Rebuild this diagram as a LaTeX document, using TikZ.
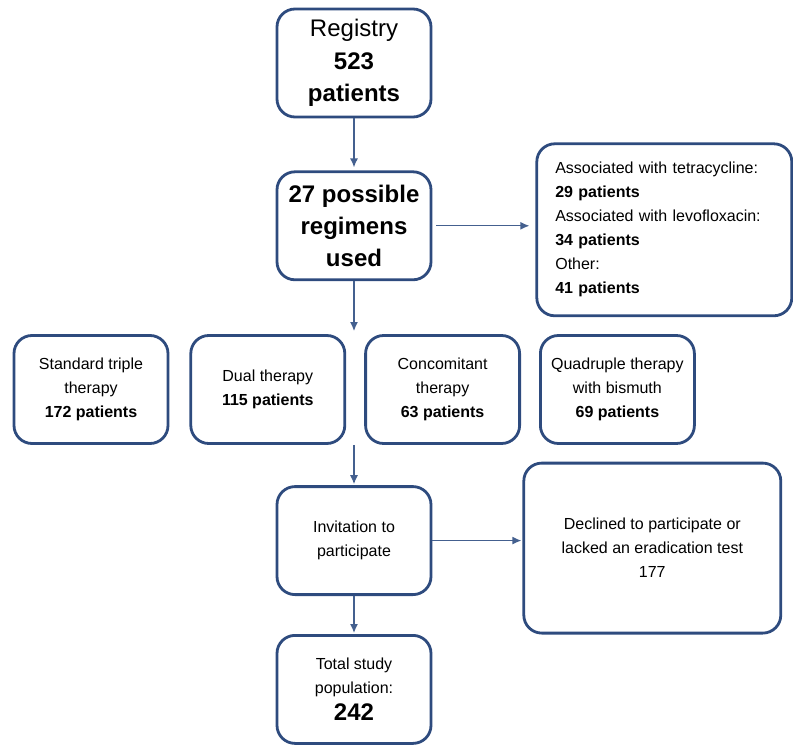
\documentclass[tikz,border=0pt]{standalone}
\usepackage{fontspec}
\setmainfont{Liberation Sans}
\usepackage{xcolor}
\definecolor{frameblue}{HTML}{2E4B7E}
\definecolor{arrowblue}{HTML}{44608F}
\usetikzlibrary{positioning, arrows.meta, calc}
\newcommand{\bigtxt}{\fontsize{24}{32}\selectfont}
\newcommand{\smalltxt}{\fontsize{16}{24}\selectfont}

\begin{document}
\begin{tikzpicture}[
  x=1pt, y=1pt,
  font=\smalltxt,
  box/.style={draw=frameblue, line width=2.8pt, rounded corners=18pt, fill=white,
              minimum width=154pt, minimum height=108pt, align=center, inner sep=4pt},
  flow/.style={-{Latex[length=9pt, width=8pt]}, arrowblue, line width=1.3pt, shorten >=3pt}
]
  \useasboundingbox (0,0) rectangle (793,-746);

  % main column
  \node[box, font=\bigtxt] (reg) at (354,-63) {Registry\\[1pt]\textbf{523}\\\textbf{patients}};
  \node[box, font=\bigtxt\bfseries, below=52pt of reg] (regi) {27 possible\\regimens\\used};
  \node[box, right=103pt of regi, minimum width=255pt, minimum height=172pt,
        yshift=-4pt, align=left, text width=218pt] (assoc)
        {Associated with tetracycline:\\\textbf{29 patients}\\Associated with levofloxacin:\\\textbf{34 patients}\\Other:\\\textbf{41 patients}};

  % the four regimen groups
  \node[box] (std) at (91,-389.5) {Standard triple\\therapy\\\textbf{172 patients}};
  \node[box, right=20pt of std]  (dual) {Dual therapy\\\textbf{115 patients}};
  \node[box, right=18pt of dual] (conc) {Concomitant\\therapy\\\textbf{63 patients}};
  \node[box, right=18pt of conc] (quad) {Quadruple therapy\\with bismuth\\\textbf{69 patients}};

  \node[box, below=204pt of regi] (inv) {Invitation to\\participate};
  \node[box, right=90pt of inv, minimum width=257pt, minimum height=170pt, yshift=-7.5pt] (decl)
        {Declined to participate or\\lacked an eradication test\\177};
  \node[box, below=38pt of inv] (tot) {Total study\\population:\\[3pt]{\bigtxt\bfseries 242}};

  \draw[flow] (reg) -- (regi);
  \draw[flow, shorten <=4pt, shorten >=6pt] (regi) -- (regi -| assoc.west);
  \draw[flow] (regi) -- (regi |- dual.north);
  \draw[flow, shorten >=1pt] (regi |- dual.south) -- (inv);
  \draw[flow, shorten >=1pt] (inv) -- (inv -| decl.west);
  \draw[flow, shorten >=1pt] (inv) -- (tot);
\end{tikzpicture}
\end{document}
